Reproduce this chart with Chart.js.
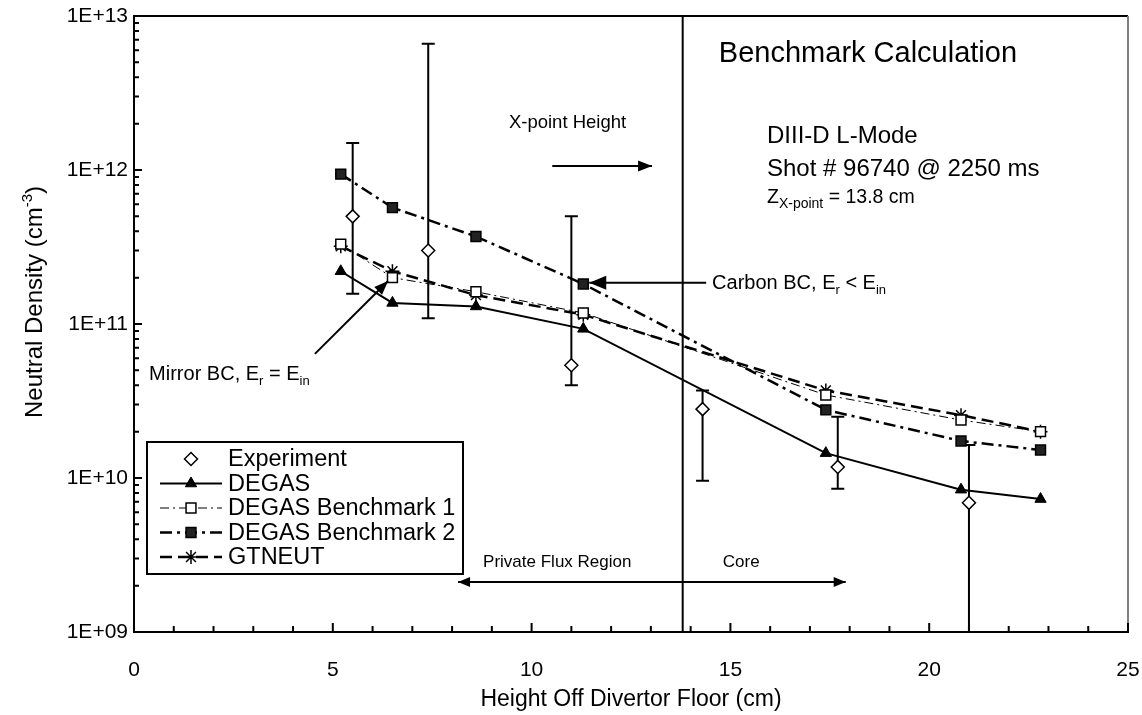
<!DOCTYPE html>
<html>
<head>
<meta charset="utf-8">
<script src="https://cdn.jsdelivr.net/npm/chart.js@4.4.1/dist/chart.umd.min.js"></script>
<style>
  html, body { margin: 0; padding: 0; background: #fff; }
</style>
</head>
<body>
<canvas id="densityChart" width="1142" height="715"></canvas>
<script>
// Experiment: height off divertor floor (cm), density (cm^-3) and error bar ends
const expHeight = [5.5, 7.4, 11.0, 14.3, 17.7, 21.0];
const expDensity = [5.0e11, 3.0e11, 5.4e10, 2.8e10, 1.18e10, 6.9e9];
const expHigh = [1.5e12, 6.6e12, 5.0e11, 3.7e10, 2.5e10, 1.64e10];
const expLow = [1.57e11, 1.09e11, 4.0e10, 9.6e9, 8.5e9, 5e8];

// code results share the same heights
const modelHeight = [5.2, 6.5, 8.6, 11.3, 17.4, 20.8, 22.8];
const degas = [2.2e11, 1.37e11, 1.3e11, 9.3e10, 1.45e10, 8.4e9, 7.3e9];
const bench1 = [3.3e11, 2.0e11, 1.62e11, 1.18e11, 3.46e10, 2.38e10, 2.0e10];
const bench2 = [9.4e11, 5.7e11, 3.7e11, 1.82e11, 2.77e10, 1.74e10, 1.52e10];
const gtneut = [3.2e11, 2.2e11, 1.54e11, 1.15e11, 3.7e10, 2.56e10, 2.0e10];

const seriesNames = ['Experiment', 'DEGAS', 'DEGAS Benchmark 1', 'DEGAS Benchmark 2', 'GTNEUT'];
const decadeTicks = [1e9, 1e10, 1e11, 1e12, 1e13];
const xPointHeight = 13.8;

const FONT = '"Liberation Sans", Arial, Helvetica, sans-serif';

const toPoints = (xs, ys) => xs.map((x, i) => ({ x: x, y: ys[i] }));
const expLabel = v => '1E+' + String(Math.round(Math.log10(v))).padStart(2, '0');

// text pieces with sub/superscripts: [text, size, dy]
function drawRich(ctx, x, y, parts, angle) {
  ctx.save();
  ctx.translate(x, y);
  if (angle) ctx.rotate(angle);
  ctx.textBaseline = 'alphabetic';
  ctx.textAlign = 'left';
  let cx = 0;
  parts.forEach(p => {
    ctx.font = p[1] + 'px ' + FONT;
    ctx.fillText(p[0], cx, p[2] || 0);
    cx += ctx.measureText(p[0]).width;
  });
  ctx.restore();
  return cx;
}

function richWidth(ctx, parts) {
  let w = 0;
  parts.forEach(p => { ctx.font = p[1] + 'px ' + FONT; w += ctx.measureText(p[0]).width; });
  return w;
}

function arrowHead(ctx, x1, y1, x2, y2, len, half) {
  const a = Math.atan2(y2 - y1, x2 - x1);
  ctx.beginPath();
  ctx.moveTo(x2, y2);
  ctx.lineTo(x2 - len * Math.cos(a) + half * Math.sin(a), y2 - len * Math.sin(a) - half * Math.cos(a));
  ctx.lineTo(x2 - len * Math.cos(a) - half * Math.sin(a), y2 - len * Math.sin(a) + half * Math.cos(a));
  ctx.closePath();
  ctx.fill();
}

function arrow(ctx, x1, y1, x2, y2, len, half, both) {
  ctx.beginPath();
  ctx.moveTo(x1, y1);
  ctx.lineTo(x2, y2);
  ctx.stroke();
  arrowHead(ctx, x1, y1, x2, y2, len, half);
  if (both) arrowHead(ctx, x2, y2, x1, y1, len, half);
}

// error bars and the X-point line sit under the data
const underlay = {
  id: 'underlay',
  beforeDatasetsDraw(chart) {
    const { ctx, chartArea: a, scales: { x, y } } = chart;
    ctx.save();
    ctx.beginPath();
    ctx.rect(a.left, a.top, a.right - a.left, a.bottom - a.top);
    ctx.clip();
    ctx.strokeStyle = '#000';
    ctx.lineWidth = 2;
    const xl = x.getPixelForValue(xPointHeight);
    ctx.beginPath();
    ctx.moveTo(xl, a.top);
    ctx.lineTo(xl, a.bottom);
    ctx.stroke();
    expHeight.forEach((h, i) => {
      const px = x.getPixelForValue(h);
      const top = y.getPixelForValue(expHigh[i]);
      const bot = y.getPixelForValue(expLow[i]);
      ctx.beginPath();
      ctx.moveTo(px, top);
      ctx.lineTo(px, bot);
      ctx.moveTo(px - 6.5, top);
      ctx.lineTo(px + 6.5, top);
      ctx.moveTo(px - 6.5, bot);
      ctx.lineTo(px + 6.5, bot);
      ctx.stroke();
    });
    ctx.restore();
  }
};

const overlay = {
  id: 'overlay',
  afterDraw(chart) {
    const { ctx, chartArea: a, scales: { x, y } } = chart;
    const X = v => x.getPixelForValue(v);
    const Y = v => y.getPixelForValue(v);
    ctx.save();
    ctx.fillStyle = '#000';
    ctx.strokeStyle = '#000';

    // frame top and right
    ctx.lineWidth = 2;
    ctx.beginPath();
    ctx.moveTo(a.left, a.top);
    ctx.lineTo(a.right, a.top);
    ctx.stroke();
    ctx.strokeStyle = '#808080';
    ctx.beginPath();
    ctx.moveTo(a.right, a.top);
    ctx.lineTo(a.right, a.bottom);
    ctx.stroke();
    ctx.strokeStyle = '#000';

    // inward tick marks
    ctx.lineWidth = 2;
    ctx.beginPath();
    for (let d = 9; d <= 12; d++) {
      for (let m = 1; m <= 9; m++) {
        const py = Y(m * Math.pow(10, d));
        ctx.moveTo(a.left, py);
        ctx.lineTo(a.left + (m === 1 ? 8 : 5), py);
      }
    }
    ctx.moveTo(a.left, Y(1e13));
    ctx.lineTo(a.left + 8, Y(1e13));
    for (let v = 0; v <= 25; v++) {
      const px = X(v);
      ctx.moveTo(px, a.bottom);
      ctx.lineTo(px, a.bottom - (v % 5 === 0 ? 9 : 6));
    }
    ctx.stroke();

    // y axis title
    const yTitle = [['Neutral Density (cm', 24], ['-3', 15, -10], [')', 24]];
    const tw = richWidth(ctx, yTitle);
    drawRich(ctx, 42, 302 + tw / 2, yTitle, -Math.PI / 2);

    // notes
    drawRich(ctx, X(14.71), Y(5.0e12), [['Benchmark Calculation', 29]]);
    drawRich(ctx, X(15.92), Y(1.5e12), [['DIII-D L-Mode', 24]]);
    drawRich(ctx, X(15.92), Y(9.1e11), [['Shot # 96740 @ 2250 ms', 24]]);
    drawRich(ctx, X(15.92), Y(6.1e11), [['Z', 19.5], ['X-point', 14, 5], [' = 13.8 cm', 19.5]]);
    drawRich(ctx, X(9.43), Y(1.87e12), [['X-point Height', 18.5]]);
    drawRich(ctx, X(14.54), Y(1.69e11), [['Carbon BC, E', 20], ['r', 13, 5], [' < E', 20], ['in', 13, 5]]);
    drawRich(ctx, X(0.38), Y(4.3e10), [['Mirror BC, E', 20], ['r', 13, 5], [' = E', 20], ['in', 13, 5]]);
    drawRich(ctx, X(8.78), Y(2.64e9), [['Private Flux Region', 17]]);
    drawRich(ctx, X(14.81), Y(2.64e9), [['Core', 17]]);

    // arrows
    ctx.lineWidth = 2;
    arrow(ctx, X(10.52), Y(1.06e12), X(13.03), Y(1.06e12), 14, 5.5);
    arrow(ctx, X(14.39), Y(1.85e11), X(11.45), Y(1.85e11), 17, 7);
    arrow(ctx, X(4.55), Y(6.4e10), X(6.39), Y(1.9e11), 14, 5.5);
    arrow(ctx, X(8.15), Y(2.11e9), X(17.9), Y(2.11e9), 12, 5, true);

    // legend box
    const lx = 147, ly = 442, lw = 316, lh = 132;
    ctx.fillStyle = '#fff';
    ctx.fillRect(lx, ly, lw, lh);
    ctx.strokeStyle = '#000';
    ctx.lineWidth = 2;
    ctx.setLineDash([]);
    ctx.strokeRect(lx, ly, lw, lh);
    chart.data.datasets.forEach((ds, i) => {
      const ry = ly + 17 + i * 24.5;
      ctx.strokeStyle = '#000';
      if (ds.showLine !== false) {
        ctx.setLineDash(ds.borderDash || []);
        ctx.lineWidth = ds.borderWidth;
        ctx.beginPath();
        ctx.moveTo(lx + 13, ry);
        ctx.lineTo(lx + 75, ry);
        ctx.stroke();
        ctx.setLineDash([]);
      }
      ctx.fillStyle = ds.pointBackgroundColor;
      ctx.strokeStyle = ds.pointBorderColor;
      ctx.lineWidth = ds.pointBorderWidth;
      Chart.helpers.drawPoint(ctx, {
        pointStyle: ds.pointStyle, radius: ds.pointRadius, borderWidth: ds.pointBorderWidth, rotation: 0
      }, lx + 44, ry);
      ctx.fillStyle = '#000';
      ctx.font = '23.5px ' + FONT;
      ctx.textBaseline = 'middle';
      ctx.fillText(ds.label, lx + 81, ry + 1);
    });
    ctx.restore();
  }
};

// drop the label overhang so the plot area keeps its fixed frame
const noOverhang = s => { s.paddingLeft = 0; s.paddingRight = 0; s.paddingTop = 0; s.paddingBottom = 0; };

const ctx = document.getElementById('densityChart').getContext('2d');
const chart = new Chart(ctx, {
  type: 'line',
  data: {
    datasets: [
      {
        label: seriesNames[0], data: toPoints(expHeight, expDensity), showLine: false,
        pointStyle: 'rectRot', pointRadius: 6.5, pointBackgroundColor: '#fff',
        pointBorderColor: '#000', pointBorderWidth: 1.5
      },
      {
        label: seriesNames[1], data: toPoints(modelHeight, degas), borderColor: '#000', borderWidth: 2,
        pointStyle: 'triangle', pointRadius: 6.5, pointBackgroundColor: '#000',
        pointBorderColor: '#000', pointBorderWidth: 1
      },
      {
        label: seriesNames[2], data: toPoints(modelHeight, bench1), borderColor: '#000', borderWidth: 1,
        borderDash: [9, 4, 2, 4], pointStyle: 'rect', pointRadius: 7, pointBackgroundColor: '#fff',
        pointBorderColor: '#000', pointBorderWidth: 1.5
      },
      {
        label: seriesNames[3], data: toPoints(modelHeight, bench2), borderColor: '#000', borderWidth: 2.5,
        borderDash: [12, 5, 3, 5], pointStyle: 'rect', pointRadius: 7, pointBackgroundColor: '#222',
        pointBorderColor: '#000', pointBorderWidth: 1.5
      },
      {
        label: seriesNames[4], data: toPoints(modelHeight, gtneut), borderColor: '#000', borderWidth: 2.5,
        borderDash: [12, 6], pointStyle: 'star', pointRadius: 7, pointBackgroundColor: '#000',
        pointBorderColor: '#000', pointBorderWidth: 1.5
      }
    ]
  },
  options: {
    responsive: false,
    animation: false,
    devicePixelRatio: 1,
    layout: { padding: { top: 16, right: 14, left: 0, bottom: 0 } },
    plugins: { legend: { display: false }, tooltip: { enabled: false } },
    elements: { line: { tension: 0 } },
    scales: {
      x: {
        type: 'linear', min: 0, max: 25,
        ticks: { stepSize: 5, padding: 26, color: '#000', font: { family: FONT, size: 21 } },
        grid: { display: false, drawTicks: false },
        border: { display: true, color: '#000', width: 2 },
        title: {
          display: true, text: 'Height Off Divertor Floor (cm)', color: '#000',
          font: { family: FONT, size: 23 }, padding: { top: 0, bottom: 2 }
        },
        afterFit: s => { s.height = 83; noOverhang(s); }
      },
      y: {
        type: 'logarithmic', min: 1e9, max: 1e13,
        afterBuildTicks: s => { s.ticks = decadeTicks.map(v => ({ value: v })); },
        ticks: { callback: v => expLabel(v), padding: 6, color: '#000', font: { family: FONT, size: 21 } },
        grid: { display: false, drawTicks: false },
        border: { display: true, color: '#000', width: 2 },
        afterFit: s => { s.width = 134; noOverhang(s); }
      }
    }
  },
  plugins: [underlay, overlay]
});
</script>
</body>
</html>
